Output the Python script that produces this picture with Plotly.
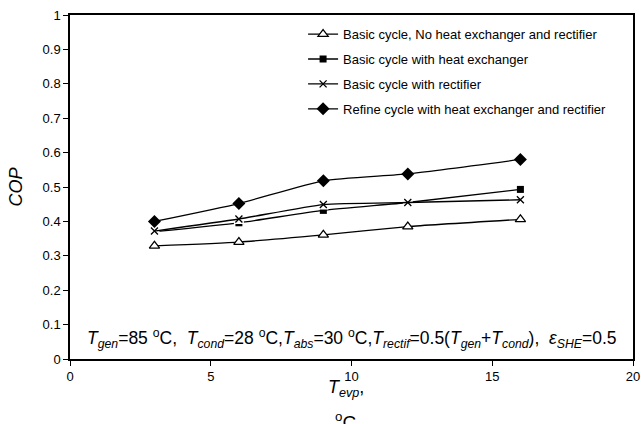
import plotly.graph_objects as go

t_evp = [3, 6, 9, 12, 16]
cop_basic = [0.329, 0.340, 0.361, 0.385, 0.406]
cop_hx = [0.370, 0.396, 0.432, 0.455, 0.493]
cop_rect = [0.372, 0.407, 0.449, 0.455, 0.463]
cop_refine = [0.400, 0.452, 0.518, 0.538, 0.580]

x_ticks = [0, 5, 10, 15, 20]
y_ticks = [0, 0.1, 0.2, 0.3, 0.4, 0.5, 0.6, 0.7, 0.8, 0.9, 1]
y_ticktext = ["0", "0.1", "0.2", "0.3", "0.4", "0.5", "0.6", "0.7", "0.8", "0.9", "1"]

names = [
    "Basic cycle, No heat exchanger and rectifier",
    "Basic cycle with heat exchanger",
    "Basic cycle with rectifier",
    "Refine cycle with heat exchanger and rectifier",
]

FONT = "Liberation Sans, Arial, sans-serif"
line = dict(color="black", width=1.3, shape="spline", smoothing=0.5)

fig = go.Figure()
fig.add_trace(go.Scatter(
    x=t_evp, y=cop_basic, name=names[0], mode="lines+markers", line=line,
    marker=dict(symbol="triangle-up", size=9, color="white", line=dict(color="black", width=1.2)),
    legendgroup="a"))
fig.add_trace(go.Scatter(
    x=t_evp, y=cop_hx, name=names[1], mode="lines+markers", line=line,
    marker=dict(symbol="square", size=7, color="black"), legendgroup="b"))
# white backing behind the x markers (hides overlapped marks, as in the original)
fig.add_trace(go.Scatter(
    x=t_evp, y=cop_rect, mode="markers", showlegend=False, hoverinfo="skip",
    marker=dict(symbol="square", size=10, color="white")))
fig.add_trace(go.Scatter(
    x=t_evp, y=cop_rect, name=names[2], mode="lines+markers", line=line,
    marker=dict(symbol="x-thin", size=7, color="black", line=dict(color="black", width=1.3)),
    legendgroup="c"))
fig.add_trace(go.Scatter(
    x=t_evp, y=cop_refine, name=names[3], mode="lines+markers", line=line,
    marker=dict(symbol="diamond", size=10, color="black"), legendgroup="d"))

axis_common = dict(showline=True, linecolor="black", linewidth=1.5, mirror=True,
                   ticks="outside", ticklen=5, tickcolor="black", tickwidth=1,
                   showgrid=False, zeroline=False, automargin=False,
                   ticklabeloverflow="allow",
                   tickfont=dict(family=FONT, size=13, color="black"))

fig.update_xaxes(range=[0, 20], tickvals=x_ticks, ticktext=[str(v) for v in x_ticks],
                 **axis_common)
fig.update_yaxes(range=[0, 1], tickvals=y_ticks, ticktext=y_ticktext,
                 title=dict(text="<i>COP</i>", font=dict(family=FONT, size=18, color="black"), standoff=15),
                 **axis_common)

# x-axis title, two lines; the second one is cut off at the bottom edge as in the original
fig.add_annotation(
    x=0.49, y=-0.085, xref="paper", yref="paper", xanchor="center", yanchor="middle", showarrow=False,
    text="<i>T<sub>evp</sub></i>,", font=dict(family=FONT, size=18, color="black"))
fig.add_annotation(
    x=0.49, y=-0.18, xref="paper", yref="paper", xanchor="center", yanchor="middle", showarrow=False,
    text="<sup>o</sup>C", font=dict(family=FONT, size=19, color="black"))

fig.add_annotation(
    x=0.5, y=0.06, xref="paper", yref="paper", xanchor="center", yanchor="middle", showarrow=False,
    text=("<i>T<sub>gen</sub></i>=85 <sup>o</sup>C,  <i>T<sub>cond</sub></i>=28 <sup>o</sup>C,"
          "<i>T<sub>abs</sub></i>=30 <sup>o</sup>C,<i>T<sub>rectif</sub></i>=0.5(<i>T<sub>gen</sub></i>+"
          "<i>T<sub>cond</sub></i>),  <i>ε<sub>SHE</sub></i>=0.5"),
    font=dict(family=FONT, size=17.5, color="black"))

fig.update_layout(
    width=641, height=424,
    margin=dict(l=70, r=8, t=15, b=65, autoexpand=False),
    paper_bgcolor="white", plot_bgcolor="white",
    showlegend=True,
    legend=dict(x=0.414, y=0.988, xanchor="left", yanchor="top",
                bgcolor="rgba(0,0,0,0)", borderwidth=0,
                traceorder="grouped", tracegroupgap=5,
                font=dict(family=FONT, size=13, color="black")),
)

fig.write_html("out.html",
               config={"displayModeBar": False},
               post_script="document.body.style.margin='0';document.body.style.overflow='hidden';")
